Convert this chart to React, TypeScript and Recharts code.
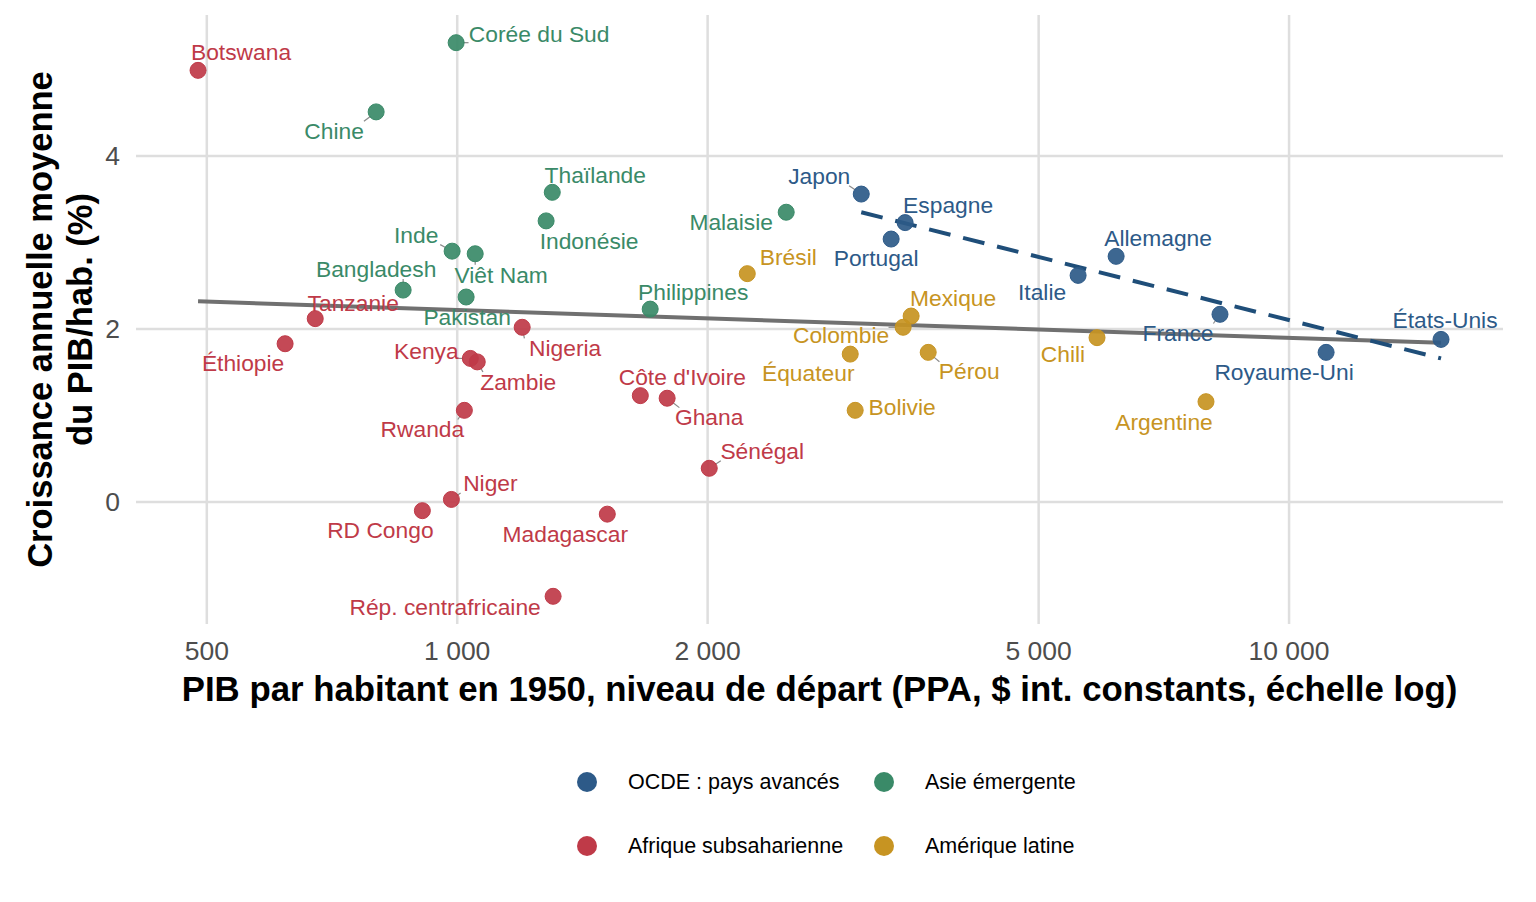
import { CartesianGrid, Legend, Scatter, ScatterChart, XAxis, YAxis } from 'recharts'

// Countries, GDP per capita in 1950 (PPP, constant int. $) and average annual growth (%)
const COUNTRIES = [
  'Botswana', 'Corée du Sud', 'Chine', 'Thaïlande', 'Indonésie', 'Inde', 'Viêt Nam', 'Bangladesh',
  'Pakistan', 'Malaisie', 'Philippines', 'Tanzanie', 'Éthiopie', 'Kenya', 'Zambie', 'Nigeria',
  'Rwanda', 'Niger', 'RD Congo', 'Madagascar', 'Rép. centrafricaine', "Côte d'Ivoire", 'Ghana',
  'Sénégal', 'Brésil', 'Mexique', 'Colombie', 'Équateur', 'Bolivie', 'Pérou', 'Chili', 'Argentine',
  'Japon', 'Espagne', 'Portugal', 'Italie', 'Allemagne', 'France', 'Royaume-Uni', 'États-Unis'
]
const GDP_1950 = [
  488, 997, 799, 1301, 1279, 986, 1051, 861,
  1025, 2486, 1706, 675, 621, 1037, 1057, 1197,
  1020, 984, 908, 1515, 1304, 1660, 1788,
  2009, 2232, 3513, 3436, 2968, 3009, 3683, 5877, 7946,
  3060, 3455, 3324, 5577, 6196, 8260, 11080, 15230
]
const GROWTH = [
  4.99, 5.31, 4.51, 3.58, 3.25, 2.9, 2.87, 2.45,
  2.37, 3.35, 2.23, 2.12, 1.83, 1.66, 1.62, 2.02,
  1.06, 0.03, -0.1, -0.14, -1.09, 1.23, 1.2,
  0.39, 2.64, 2.15, 2.02, 1.71, 1.06, 1.73, 1.9, 1.16,
  3.56, 3.23, 3.04, 2.62, 2.84, 2.17, 1.73, 1.88
]
const REGION = [
  'afr', 'asie', 'asie', 'asie', 'asie', 'asie', 'asie', 'asie',
  'asie', 'asie', 'asie', 'afr', 'afr', 'afr', 'afr', 'afr',
  'afr', 'afr', 'afr', 'afr', 'afr', 'afr', 'afr',
  'afr', 'amlat', 'amlat', 'amlat', 'amlat', 'amlat', 'amlat', 'amlat', 'amlat',
  'ocde', 'ocde', 'ocde', 'ocde', 'ocde', 'ocde', 'ocde', 'ocde'
]

const REGION_KEYS = ['ocde', 'asie', 'afr', 'amlat']
const REGION_LABELS = ['OCDE : pays avancés', 'Asie émergente', 'Afrique subsaharienne', 'Amérique latine']
const REGION_COLORS = ['#2D5A88', '#3A8A68', '#BF3A48', '#C79422']

// Fitted lines (all countries, and OCDE only)
const TREND_X = [488, 15230]
const TREND_Y = [2.32, 1.84]
const OCDE_TREND_X = [3060, 15230]
const OCDE_TREND_Y = [3.35, 1.66]

const X_TICKS = [500, 1000, 2000, 5000, 10000]
const Y_TICKS = [0, 2, 4]

// Label placement relative to the point (text centre offset in px), like ggrepel's output
const LABEL_NUDGE: Record<string, [number, number]> = {
  Botswana: [43, -18],
  'Corée du Sud': [83, -9],
  Chine: [-42, 19],
  Thaïlande: [43, -17],
  Indonésie: [43, 20],
  Inde: [-36, -16],
  'Viêt Nam': [26, 21],
  Bangladesh: [-27, -21],
  Pakistan: [1, 20],
  Malaisie: [-55, 10],
  Philippines: [43, -17],
  Tanzanie: [38, -16],
  Éthiopie: [-42, 19],
  Kenya: [-44, -7],
  Zambie: [41, 20],
  Nigeria: [43, 21],
  Rwanda: [-42, 19],
  Niger: [39, -16],
  'RD Congo': [-42, 19],
  Madagascar: [-42, 20],
  'Rép. centrafricaine': [-108, 11],
  "Côte d'Ivoire": [42, -19],
  Ghana: [42, 19],
  Sénégal: [53, -17],
  Brésil: [41, -17],
  Mexique: [42, -18],
  Colombie: [-62, 8],
  Équateur: [-42, 19],
  Bolivie: [47, -3],
  Pérou: [41, 19],
  Chili: [-34, 16],
  Argentine: [-42, 20],
  Japon: [-42, -18],
  Espagne: [43, -18],
  Portugal: [-15, 19],
  Italie: [-36, 17],
  Allemagne: [42, -18],
  France: [-42, 19],
  'Royaume-Uni': [-42, 20],
  'États-Unis': [4, -19]
}

const FONT = '"Liberation Sans", Arial, sans-serif'

const pointsByRegion = REGION_KEYS.map((key) =>
  COUNTRIES.map((name, i) => ({ name, x: GDP_1950[i], y: GROWTH[i], region: REGION[i] })).filter(
    (p) => p.region === key
  )
)
const trendData = TREND_X.map((x, i) => ({ x, y: TREND_Y[i] }))
const ocdeTrendData = OCDE_TREND_X.map((x, i) => ({ x, y: OCDE_TREND_Y[i] }))

const formatThousands = (v: number) => String(v).replace(/\B(?=(\d{3})+(?!\d))/g, ' ')

function CountryPoint(props: any) {
  const { cx, cy, payload, color } = props
  if (cx == null || cy == null) return <g />
  const r = 8
  const [dx, dy] = LABEL_NUDGE[payload.name] ?? [0, -18]
  const tx = cx + dx
  const ty = cy + dy

  // short leader from the point to the closest edge of the label box
  const halfW = payload.name.length * 5.8
  const halfH = 9
  const nx = Math.min(Math.max(cx, tx - halfW), tx + halfW)
  const ny = Math.min(Math.max(cy, ty - halfH), ty + halfH)
  const dist = Math.hypot(nx - cx, ny - cy)
  let segment = null
  if (dist > r + 3) {
    const ux = (nx - cx) / dist
    const uy = (ny - cy) / dist
    segment = (
      <line
        x1={cx + ux * (r - 1)}
        y1={cy + uy * (r - 1)}
        x2={cx + ux * (dist - 1)}
        y2={cy + uy * (dist - 1)}
        stroke="#8a8a8a"
        strokeWidth={1.2}
      />
    )
  }

  return (
    <g>
      {segment}
      <circle cx={cx} cy={cy} r={r} fill={color} fillOpacity={0.92} stroke={color} strokeWidth={1} />
      <text
        x={tx}
        y={ty}
        textAnchor="middle"
        dominantBaseline="central"
        fill={color}
        fontSize={22.8}
        fontFamily={FONT}
      >
        {payload.name}
      </text>
    </g>
  )
}

function YTitle(props: any) {
  const { viewBox } = props
  const cy = viewBox.y + viewBox.height / 2
  const lines = ['Croissance annuelle moyenne', 'du PIB/hab. (%)']
  return (
    <g>
      {lines.map((line, i) => {
        const x = viewBox.x + 32 + i * 40
        return (
          <text
            key={line}
            x={x}
            y={cy}
            transform={`rotate(-90, ${x}, ${cy})`}
            textAnchor="middle"
            dominantBaseline="central"
            fontSize={34.5}
            fontWeight="bold"
            fontFamily={FONT}
            fill="#000"
          >
            {line}
          </text>
        )
      })}
    </g>
  )
}

function XTitle(props: any) {
  const { viewBox } = props
  return (
    <text
      x={viewBox.x + viewBox.width / 2}
      y={viewBox.y + 64}
      textAnchor="middle"
      dominantBaseline="central"
      fontSize={34.8}
      fontWeight="bold"
      fontFamily={FONT}
      fill="#000"
    >
      PIB par habitant en 1950, niveau de départ (PPA, $ int. constants, échelle log)
    </text>
  )
}

function RegionLegend() {
  return (
    <div
      style={{
        display: 'grid',
        gridTemplateColumns: '297px 220px',
        gridAutoRows: '64px',
        marginLeft: 569,
        fontFamily: FONT,
        fontSize: 21.5,
        color: '#000'
      }}
    >
      {REGION_LABELS.map((label, i) => (
        <div key={label} style={{ display: 'flex', alignItems: 'center' }}>
          <span
            style={{
              width: 20,
              height: 20,
              borderRadius: '50%',
              background: REGION_COLORS[i],
              marginRight: 31,
              flexShrink: 0
            }}
          />
          <span>{label}</span>
        </div>
      ))}
    </div>
  )
}

export default function App() {
  return (
    <div style={{ fontFamily: FONT, background: '#fff' }}>
      <ScatterChart width={1520} height={886} margin={{ top: 7, right: 25, bottom: 190, left: 0 }}>
        <CartesianGrid stroke="#dedede" strokeWidth={2.5} horizontalValues={Y_TICKS} verticalValues={X_TICKS} />
        <XAxis
          type="number"
          dataKey="x"
          scale="log"
          domain={[411, 18080]}
          allowDataOverflow
          ticks={X_TICKS}
          tickFormatter={formatThousands}
          axisLine={false}
          tickLine={false}
          tickSize={0}
          tickMargin={17}
          height={80}
          tick={{ fill: '#4d4d4d', fontSize: 26.5, fontFamily: FONT }}
          label={<XTitle />}
        />
        <YAxis
          type="number"
          dataKey="y"
          domain={[-1.41, 5.63]}
          allowDataOverflow
          ticks={Y_TICKS}
          axisLine={false}
          tickLine={false}
          tickSize={0}
          tickMargin={16}
          width={128}
          tick={{ fill: '#4d4d4d', fontSize: 26.5, fontFamily: FONT }}
          label={<YTitle />}
        />
        <Legend
          layout="horizontal"
          verticalAlign="middle"
          align="center"
          wrapperStyle={{ top: 742, left: 0, width: 1520 }}
          content={() => <RegionLegend />}
        />
        <Scatter
          data={trendData}
          line={{ stroke: '#707070', strokeWidth: 4 }}
          shape={() => <g />}
          legendType="none"
          isAnimationActive={false}
        />
        <Scatter
          data={ocdeTrendData}
          line={{ stroke: '#1F4E79', strokeWidth: 4, strokeDasharray: '22 13' }}
          shape={() => <g />}
          legendType="none"
          isAnimationActive={false}
        />
        {REGION_KEYS.map((key, i) => (
          <Scatter
            key={key}
            name={REGION_LABELS[i]}
            data={pointsByRegion[i]}
            fill={REGION_COLORS[i]}
            shape={(p: any) => <CountryPoint {...p} color={REGION_COLORS[i]} />}
            isAnimationActive={false}
          />
        ))}
      </ScatterChart>
    </div>
  )
}
